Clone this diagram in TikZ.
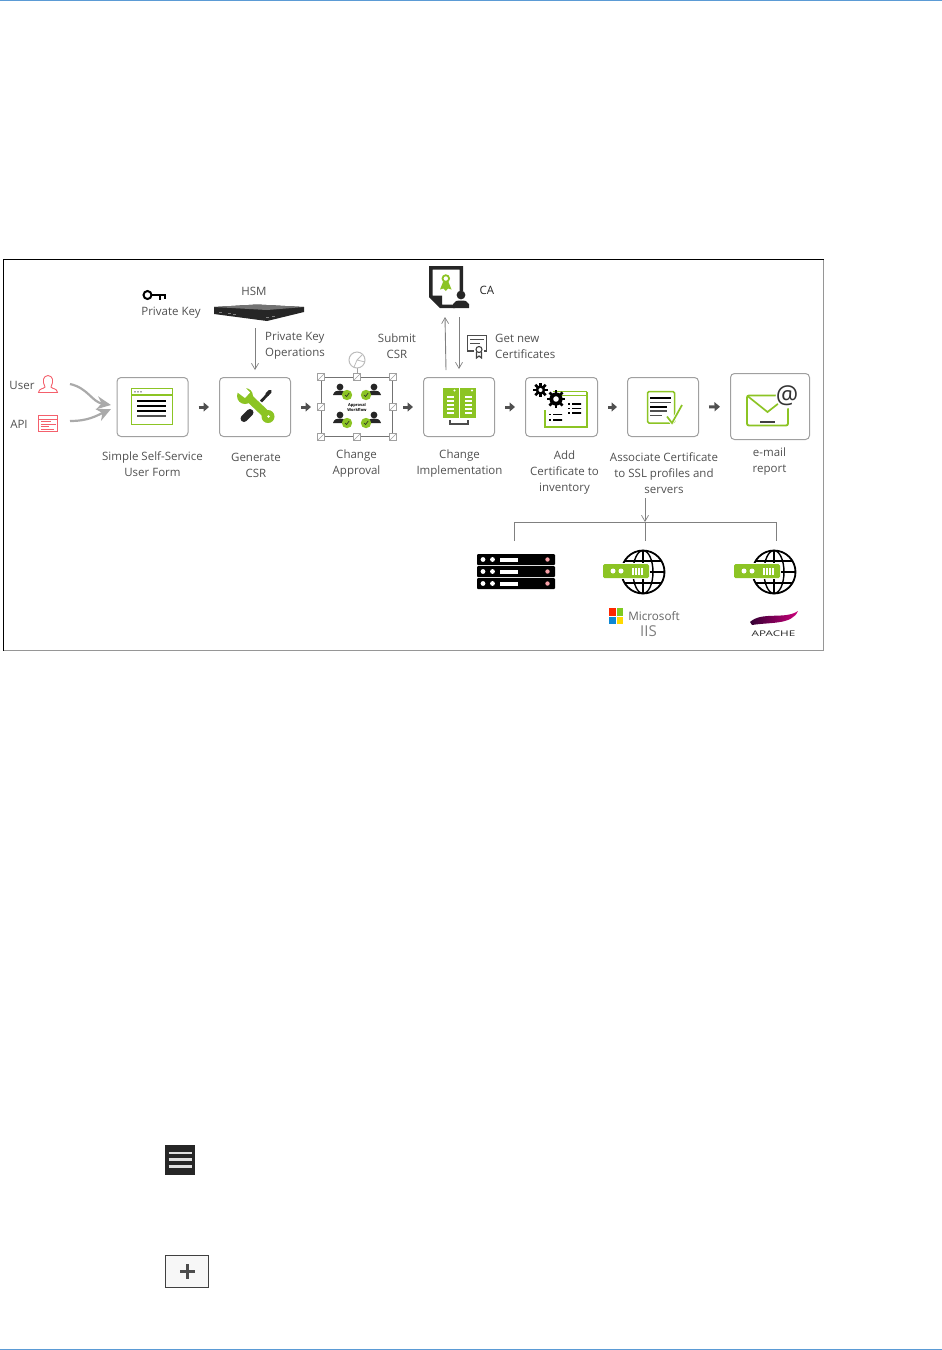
\documentclass[tikz,border=0pt]{standalone}
\usepackage{fontspec}
\setmainfont{Open Sans}
\usepackage{xcolor}
\usetikzlibrary{arrows.meta,calc}
\definecolor{leaf}{HTML}{8CC424}
\definecolor{rim}{HTML}{A0A0A0}
\definecolor{ink}{HTML}{505050}
\definecolor{alert}{HTML}{F4606C}
\definecolor{rule}{HTML}{5B9BD5}
\tikzset{
  lbl/.style={align=center,inner sep=0pt,text=ink,font=\fontsize{11.5}{16}\selectfont},
  card/.style={draw=rim,line width=1pt,rounded corners=4pt,fill=white,minimum width=71pt,minimum height=59pt,inner sep=0pt},
  flow/.style={-{Triangle[length=5.5pt,width=9pt]},ink,line width=3pt,shorten <=10pt,shorten >=10pt,yshift=0.8pt},
  thin/.style={-{Straight Barb[length=6pt,width=7pt,line width=0.7pt]},rim!80!black,line width=0.9pt},
  feed/.style={-{Stealth[length=14pt,width=13pt]},rim!90!white,line width=2.2pt},
  tree/.style={rim!80!black,line width=1pt}
}
\begin{document}
\begin{tikzpicture}[x=1pt,y=-1pt]
  \useasboundingbox (0,0) rectangle (942,1350);
  \draw[rule,line width=1pt] (0,0.5) -- (942,0.5);
  \draw[rule,line width=1pt] (0,1349.5) -- (942,1349.5);

  \draw[ink!60,line width=1pt] (3.5,259.5) rectangle (823.5,650.5);
  \draw[black,line width=1pt] (3.5,650.5) -- (3.5,259.5) -- (823.5,259.5);

  \node[card] (form) at (152.5,407) {};
  \node[card] (csr) at (255,407) {};
  \node[inner sep=0pt,minimum width=71pt,minimum height=59pt,draw=ink!80,line width=1pt] (approval) at (357,407) {};
  \node[card] (impl) at (459,407) {};
  \node[card,minimum width=72pt] (inventory) at (561.5,407) {};
  \node[card] (assoc) at (663,407) {};
  \node[card,minimum width=79pt,minimum height=66pt] (email) at (770,406.5) {};

  \foreach \a/\b in {form/csr,csr/approval,approval/impl,impl/inventory,inventory/assoc,assoc/email}
    \draw[flow] (\a) -- (\b);

  \node[lbl] (userlabel) at (22,385) {User};
  \node[lbl] (apilabel) at (19,424) {API};
  \node[lbl] (keylabel) at (171,313) {Private Key};
  \node[lbl] (hsmlabel) at (254,291) {HSM};
  \node[lbl,align=left,anchor=west] (opslabel) at (265,346) {Private Key\\Operations};
  \node[lbl] (submitlabel) at (397,346) {Submit\\CSR};
  \node[lbl,text=black!85] (calabel) at (487,290) {CA};
  \node[lbl,align=left,anchor=west] (getlabel) at (495,346) {Get new\\Certificates};
  \node[lbl] (formlabel) at (152.5,464) {Simple Self-Service\\User Form};
  \node[lbl] (csrlabel) at (256,465) {Generate\\CSR};
  \node[lbl] (approvallabel) at (356.5,464) {Change\\Approval};
  \node[lbl] (impllabel) at (459.5,464) {Change\\Implementation};
  \node[lbl] (inventorylabel) at (564.5,473) {Add\\Certificate to\\inventory};
  \node[lbl] (assoclabel) at (664,473) {Associate Certificate\\to SSL profiles and\\servers};
  \node[lbl] (emaillabel) at (769.5,462) {e-mail\\report};

  \coordinate (userout) at (70,384);
  \coordinate (apiout) at (70,421);
  \coordinate (formin) at (111,405);
  \coordinate (formin2) at (111,409);
  \draw[feed] (userout) .. controls (88,388) and (92,402) .. (formin);
  \draw[feed] (apiout) .. controls (88,421) and (96,416) .. (formin2);

  \coordinate (hsmout) at (255,328);
  \draw[thin] (hsmout) -- (255,370);
  \coordinate (caup) at (445,317);
  \coordinate (implup) at (446,370);
  \coordinate (cadown) at (459,317);
  \coordinate (impldown) at (459,369);
  \draw[thin] (implup) -- (caup);
  \draw[thin] (cadown) -- (impldown);

  \coordinate (assocout) at (645,498);
  \coordinate (branch) at (645,522);
  \coordinate (rackin) at (514,541);
  \coordinate (iisin) at (645,541);
  \coordinate (apachein) at (776,541);
  \draw[thin] (assocout) -- (branch);
  \draw[tree] (rackin) |- (apachein |- branch) -- (apachein);
  \draw[tree] (branch) -- (iisin);

  \draw[alert,line width=0.9pt,fill=white] (38.5,392.5) .. controls (39,388) and (44,389) .. (45,387) .. controls (42,381) and (43,376) .. (48,375.5) .. controls (53,376) and (54,381) .. (51,387) .. controls (52,389) and (57,388) .. (57.5,392.5) -- cycle;
  \draw[alert,line width=0.9pt] (38.5,415.5) rectangle (57.5,431.5);
  \draw[alert,line width=0.6pt] (38.5,419) -- (57.5,419);
  \foreach \y/\w in {421.5/10,424/15,426.5/8,429/13}
    \draw[alert,line width=0.8pt] (41,\y) -- ++(\w,0);

  \draw[black,line width=2pt] (147.5,295) circle (4pt);
  \draw[black,line width=2.4pt] (152,295) -- (166,295);
  \draw[black,line width=2pt] (160,295) -- (160,299.5) (164.5,295) -- (164.5,298.5);

  \fill[black!85] (214,307) -- (257,304.5) -- (304,307) -- (304,312) -- (267,321) -- (214,314) -- cycle;
  \fill[black!55] (214,307) -- (257,304.5) -- (304,307) -- (267,310) -- cycle;
  \foreach \x/\y in {219/313,228/314,233/315,266/318,272/317}
    \fill[gray] (\x,\y) rectangle ++(3,-1.5);

  \fill[black!85] (429,266) -- (463,266) -- (463,291) -- (459.5,291) -- (459.5,269.5) -- (432.5,269.5) -- (432.5,295.5) -- (442,295.5) -- (442,304.5) -- (455,304.5) -- (455,308) -- (440,308) -- (429,297) -- cycle;
  \fill[black!85] (461,295) circle (4.4pt);
  \fill[black!85] (453,308) -- (453,304) .. controls (454,301) and (457,300.5) .. (461,300.5) .. controls (465,300.5) and (468,301) .. (469,304) -- (469,308) -- cycle;
  \draw[leaf,line width=1.8pt] (445.8,278.5) circle (3.3pt);
  \fill[leaf] (443,282) -- (440,289.5) -- (443.5,288.5) -- (445.8,291) -- (448,288.5) -- (451.5,289.5) -- (448.5,282) -- cycle;

  \draw[black!70,line width=1.3pt] (474,351) -- (467.5,351) -- (467.5,335.5) -- (486.5,335.5) -- (486.5,351) -- (484,351);
  \draw[black!70,line width=1pt] (470,339) -- (484,339);
  \draw[black!70,line width=1pt] (470,343) -- (480,343);
  \draw[black!75,line width=1.1pt] (479,349.5) circle (3pt) (476.5,352) -- (476.5,358) -- (479,356) -- (481.5,358) -- (481.5,352);

  \draw[leaf,line width=1.2pt] (131.5,388.5) rectangle (172.5,424.5);
  \draw[leaf,line width=1.2pt] (131.5,395) -- (172.5,395);
  \foreach \x in {135,138,141}
    \fill[black!70] (\x,391.8) circle (0.8pt);
  \foreach \y/\c in {401/black,406/black,411/black,416/ink}
    \draw[\c,line width=1.2pt] (137,\y) -- (166,\y);

  \draw[leaf,line width=8pt] (248,397) -- (268,416);
  \fill[leaf] (245,396) circle (8pt);
  \fill[leaf] (268,416.5) circle (6.5pt);
  \fill[white] (243,385) -- (250,392.5) -- (245,398) -- (235,390.5) -- cycle;
  \fill[white] (268.5,416.5) circle (1.4pt);
  \draw[black!85,line width=7pt,line cap=round] (244,418.5) -- (250,412.5);
  \draw[black!85,line width=2.8pt] (261,401.5) -- (268,394);
  \draw[black!85,line width=3.6pt,line cap=round] (267,394.5) -- (270,391.5);

  \foreach \x/\y in {321/377,357/377,393/377,321/407,393/407,321/437,357/437,393/437} {
    \draw[rim,fill=white,line width=0.7pt] (\x-3.5,\y-3.5) rectangle (\x+3.5,\y+3.5);
    \draw[rim,line width=0.5pt] (\x-3.5,\y+3.5) -- (\x+3.5,\y-3.5);
  }
  \draw[rim,line width=0.7pt] (357,373.5) -- (357,368);
  \draw[rim!70,line width=1pt,fill=white] (357,360) circle (8pt);
  \draw[rim!70,line width=0.8pt] (357,360) -- (362,355) (357,360) -- (354,367) (357,360) -- (365,362);
  \foreach \ux/\uy/\bx in {340/387/347,374/387/366,340/415/347,374/415/366} {
    \fill[black!85] (\ux,\uy) circle (3.4pt);
    \fill[black!85] (\ux-7,\uy+8) .. controls (\ux-6,\uy+4) and (\ux-3,\uy+3.5) .. (\ux,\uy+3.5) .. controls (\ux+3,\uy+3.5) and (\ux+6,\uy+4) .. (\ux+7,\uy+8) -- cycle;
    \fill[leaf] (\bx,\uy+8) circle (5.2pt);
    \draw[black!85,line width=0.6pt] (\bx-2,\uy+8) -- (\bx-0.5,\uy+9.5) -- (\bx+2.2,\uy+6);
  }
  \node[inner sep=0pt,align=center,font=\fontsize{4}{5}\selectfont\bfseries] (workflow) at (357,407) {Approval\\Workflow};

  \fill[leaf] (443,387.5) rectangle (458.5,418);
  \fill[leaf] (460,387.5) rectangle (476,418);
  \foreach \x in {450.5,468} {
    \fill[white] (\x+4,390.5) circle (1.1pt);
    \foreach \y in {396,400,404,408,412}
      \fill[white] (\x-3.5,\y) rectangle (\x+3.5,\y+2.3);
  }
  \draw[black!70,line width=1.8pt] (450,420) -- (450,424) -- (468,424) -- (468,420);

  \draw[leaf,line width=1pt] (553,391.5) -- (587,391.5);
  \draw[leaf,line width=1pt] (560,395.5) -- (587,395.5);
  \draw[leaf,line width=1.4pt] (587,391.5) -- (587,427) -- (545,427) -- (545,410);
  \foreach \x/\y/\r in {540.5/390/4.8,556/399/6.6} {
    \foreach \a in {0,45,...,315}
      \draw[black,line width=2.6pt] (\x,\y) -- ++(\a:\r+2.6);
    \fill[black] (\x,\y) circle (\r pt);
    \fill[white] (\x,\y) circle (\r*0.42 pt);
  }
  \foreach \x/\y in {568/404,568/408.5,568/413,549/414.5,549/420}
    \draw[black,line width=1.1pt,dash pattern=on 2pt off 2pt on 9pt off 0pt] (\x,\y) -- ++(13,0);

  \draw[leaf,line width=1.5pt,rounded corners=1.5pt] (647.5,391.5) rectangle (674.5,423);
  \foreach \y/\w/\c in {398/21/black,402.5/21/ink,407/17/black,411/17/ink,415.5/12/ink}
    \draw[\c,line width=1.2pt] (650,\y) -- ++(\w,0);
  \draw[white,line width=3.5pt] (667,416) -- (672,423) -- (682,405);
  \draw[leaf,line width=1.7pt] (667,416.5) -- (672,423) -- (682,405);

  \draw[leaf,line width=1.9pt,rounded corners=2pt] (747,395.5) rectangle (788,425.5);
  \draw[leaf,line width=1.7pt] (747.5,396) -- (767.5,412) -- (788,396);
  \draw[black!75,line width=1.4pt] (760,422) -- (775,422);
  \fill[white] (787,397) circle (11.5pt);
  \node[inner sep=0pt,text=black!80,font=\fontsize{25}{25}\selectfont] (atsign) at (787,396) {@};

  \foreach \y in {554,566,578} {
    \fill[black,rounded corners=1pt] (477,\y) rectangle (555,\y+11);
    \fill[white] (483,\y+5.5) circle (2.4pt);
    \fill[white] (492.5,\y+5.5) circle (2.4pt);
    \fill[white] (500,\y+3.5) rectangle (517.5,\y+7.5);
    \fill[alert!60!white] (547.5,\y+5.5) circle (2.2pt);
  }

  \foreach \gx in {643,774} {
    \draw[black,line width=1.8pt] (\gx,572) circle (21.5pt);
    \draw[black,line width=1.4pt] (\gx,572) ellipse (10pt and 21.5pt);
    \draw[black,line width=1.4pt] (\gx,550.5) -- (\gx,593.5);
    \draw[black,line width=1.4pt] (\gx-18.5,561) -- (\gx+18.5,561) (\gx-21.5,572) -- (\gx+21.5,572) (\gx-18.5,583) -- (\gx+18.5,583);
    \fill[white] (\gx-41,563) rectangle (\gx+7,579);
    \fill[leaf,rounded corners=1.5pt] (\gx-40,564) rectangle (\gx+6,578);
    \fill[white] (\gx-30,571) circle (2.5pt);
    \fill[white] (\gx-22,571) circle (2.5pt);
    \foreach \d in {-11,-8,-5,-2}
      \fill[white] (\gx+\d,567.5) rectangle ++(1.8,7);
  }

  \fill[red!70!orange] (609,608) rectangle (615.5,615.5);
  \fill[leaf!90!green] (616.5,608) rectangle (623,615.5);
  \fill[cyan!70!blue] (609,616.5) rectangle (615.5,624);
  \fill[orange!30!yellow] (616.5,616.5) rectangle (623,624);
  \node[inner sep=0pt,text=black!60,font=\fontsize{11.7}{12}\selectfont] (mslabel) at (654,616) {Microsoft};
  \node[inner sep=0pt,text=black!50,font=\fontsize{15}{15}\selectfont] (iislabel) at (648.5,631.5) {IIS};

  \shade[left color=black!80!magenta,middle color=magenta!80!red,right color=magenta!60!red!80!black] (750,622) .. controls (762,611) and (785,620) .. (798,611) .. controls (792,625) and (770,622) .. (752,625) -- cycle;
  \node[inner sep=0pt,text=black!85,xscale=1.5,font=\fontsize{7.8}{8}\selectfont] (apachelabel) at (773.5,633.5) {APACHE};

  \node[fill=black!85,inner sep=0pt,minimum size=30pt] (menubutton) at (180,1160) {};
  \foreach \y in {1153,1159.5,1166.5}
    \draw[white!75!gray,line width=2.6pt] (168.5,\y) -- (191.5,\y);
  \node[draw=black!75,fill=black!3,line width=1.4pt,inner sep=0pt,minimum width=43pt,minimum height=32pt] (addbutton) at (187,1271.5) {};
  \draw[black!70,line width=2.4pt] (180,1271.5) -- (195,1271.5) (187.5,1264) -- (187.5,1279);
\end{tikzpicture}
\end{document}
